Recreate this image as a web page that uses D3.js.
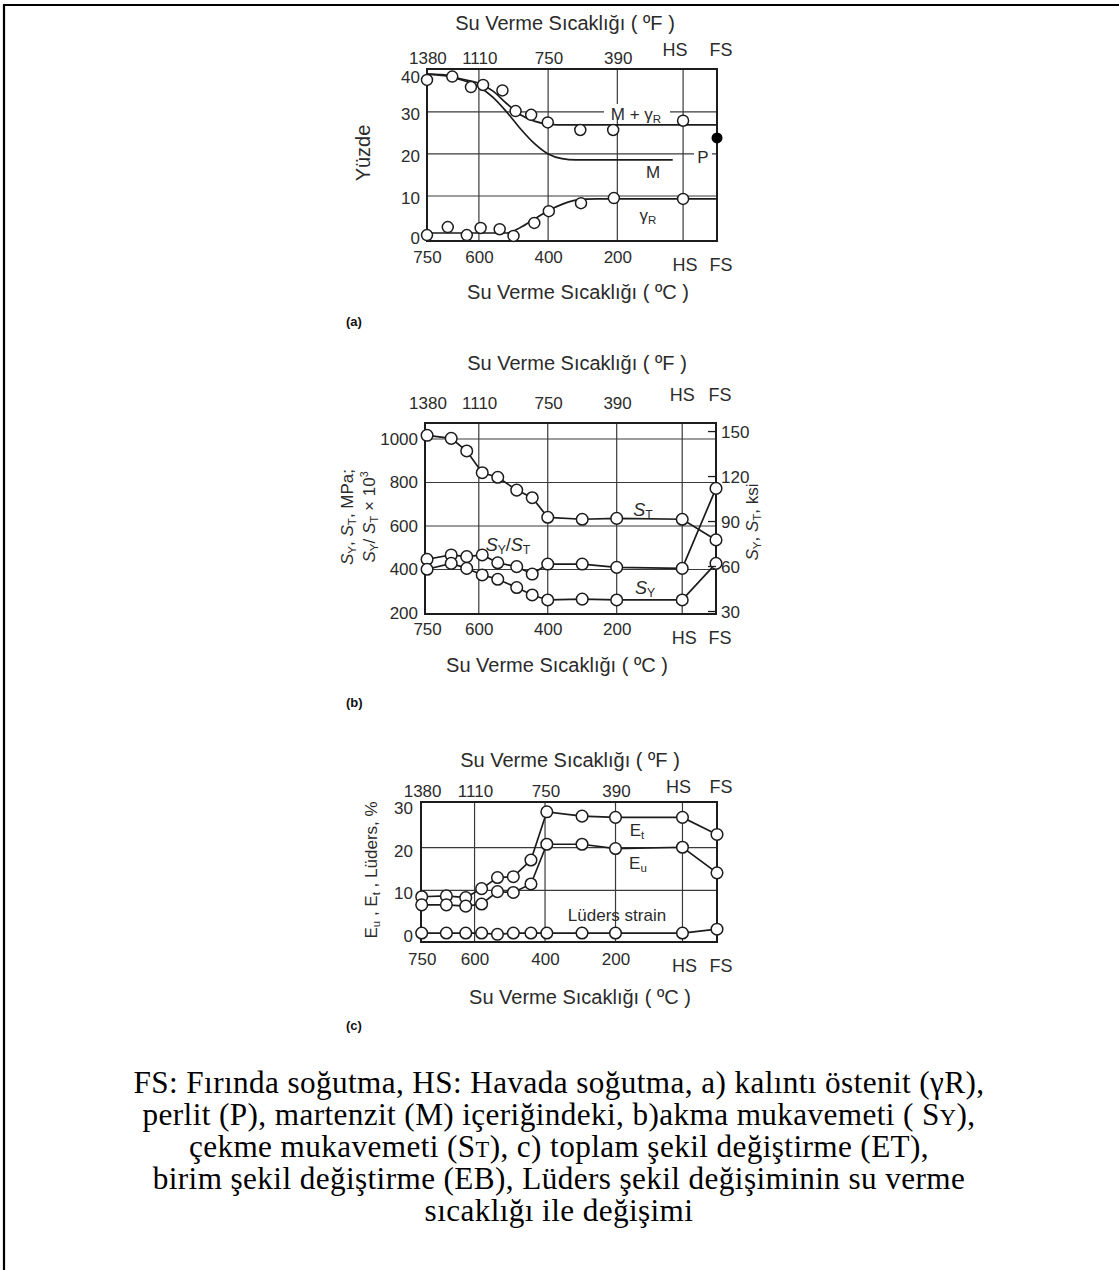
<!DOCTYPE html>
<html><head><meta charset="utf-8">
<script src="https://cdn.jsdelivr.net/npm/d3@7"></script>
<style>
html,body{margin:0;padding:0;background:#fff;}
svg{display:block;}
</style></head><body>
<svg id="fig" width="1119" height="1270"></svg>
<script>
// ---------- shared axis labels ----------
const fahrenheitTicks = [1380, 1110, 750, 390];
const celsiusTicks = [750, 600, 400, 200];
const coolingLabels = ["HS", "FS"];
const coolingPos = { HS: 10, FS: -88 };   // where air / furnace cooling sit on the temperature axis

// ---------- (a) phase contents, % ----------
const aMgTemps = [750, 677, 623, 588, 532, 494, 449, 401, 307, 212, "HS"];
const aMgValues = [37.6, 38.4, 35.9, 36.4, 35.1, 30.2, 29.3, 27.5, 25.7, 25.7, 27.9];
const aGammaTemps = [750, 690, 635, 595, 540, 500, 440, 398, 305, 210, "HS"];
const aGammaValues = [0.7, 2.6, 0.7, 2.4, 2.1, 0.5, 3.6, 6.4, 8.3, 9.5, 9.3];
const aPearliteTemps = ["FS"];
const aPearliteValues = [23.8];
// fitted trend curves
const aMgCurveTemps = [750, 700, 650, 600, 560, 520, 480, 440, 400, 350, "FS"];
const aMgCurveValues = [39, 38.8, 37.8, 36.8, 35, 32, 29.3, 27.8, 27.1, 26.9, 26.9];
const aMCurveTemps = [750, 700, 650, 600, 560, 520, 480, 440, 400, 360, 320, 40];
const aMCurveValues = [39, 38.6, 37.6, 36, 33.5, 30, 26, 22.5, 20, 18.9, 18.6, 18.6];
const aGammaCurveTemps = [750, 520, 480, 440, 400, 360, 320, 260, "FS"];
const aGammaCurveValues = [1.2, 1.2, 2.5, 4.5, 6.5, 8, 9, 9.3, 9.3];

// ---------- (b) strength, MPa ----------
const bTemps = [750, 680, 635, 590, 545, 490, 445, 400, 300, 200, "HS", "FS"];
const bTensile = [1017, 1003, 945, 845, 824, 765, 730, 640, 631, 635, 631, 536];
const bRatio = [447, 467, 459, 467, 431, 413, 379, 425, 425, 410, 405, 773];
const bYield = [401, 428, 405, 375, 355, 317, 283, 260, 264, 260, 260, 428];
const bMpaTicks = [200, 400, 600, 800, 1000];
const bKsiTicks = [30, 60, 90, 120, 150];

// ---------- (c) strains, % ----------
const cTemps = [750, 680, 625, 580, 535, 490, 440, 395, 295, 200, "HS", "FS"];
const cTotal = [8.5, 8.7, 8.3, 10.4, 13, 13.2, 17.1, 28.4, 27.4, 27.1, 27.1, 23.1];
const cUniform = [6.6, 6.6, 6.3, 6.8, 9.7, 9.5, 11.5, 20.8, 20.8, 19.8, 20.1, 14.1];
const cLuders = [0, 0, 0, 0, -0.3, 0, 0, 0, 0, 0, 0, 0.9];

const SANS = "'Liberation Sans', Arial, Helvetica, sans-serif";
const SERIF = "'Liberation Serif', 'Times New Roman', serif";
const INK = "#1c1c1c";
const TXT = "#2b2b2b";
const TICK_FONT = 17;

const svg = d3.select("#fig");
const W = 1119, H = 1270;
svg.append("rect").attr("width", W).attr("height", H).attr("fill", "#fff");
// page border (left and top edges)
svg.append("path").attr("d", `M4,${H} V5 H${W}`).attr("fill", "none")
  .attr("stroke", "#000").attr("stroke-width", 2.2);

const pos = t => (typeof t === "string" ? coolingPos[t] : t);
const fToC = f => (f - 32) * 5 / 9;

// text with italic / subscript / superscript pieces
function rich(parent, parts, attrs) {
  const t = parent.append("text").attr("font-family", SANS).attr("fill", TXT);
  Object.entries(attrs).forEach(([k, v]) => t.attr(k, v));
  let shift = 0;
  parts.forEach(p => {
    const s = t.append("tspan").text(p.t);
    const target = p.sub ? (p.shift ?? 3) : p.sup ? -7 : 0;
    if (p.sub) s.attr("font-size", p.size || "68%");
    if (p.sup) s.attr("font-size", "62%");
    if (p.it) s.attr("font-style", "italic");
    if (target !== shift) { s.attr("dy", target - shift); shift = target; }
  });
  return t;
}

function panel(cfg) {
  const g = svg.append("g");
  const x = d3.scaleLinear().domain(cfg.xDomain).range([cfg.left, cfg.right]);
  const y = d3.scaleLinear().domain(cfg.yDomain).range([cfg.bottom, cfg.top]);
  const X = t => x(pos(t));

  // grid
  g.append("g").selectAll("line").data([600, 400, 200, "HS"]).join("line")
    .attr("x1", d => X(d)).attr("x2", d => X(d))
    .attr("y1", cfg.top).attr("y2", cfg.bottom)
    .attr("stroke", "#3a3a3a").attr("stroke-width", 1.2);
  g.append("g").selectAll("line").data(cfg.hGrid).join("line")
    .attr("x1", cfg.left).attr("x2", cfg.right)
    .attr("y1", d => y(d)).attr("y2", d => y(d))
    .attr("stroke", "#3a3a3a").attr("stroke-width", 1.2);
  // frame
  g.append("rect").attr("x", cfg.left).attr("y", cfg.top)
    .attr("width", cfg.right - cfg.left).attr("height", cfg.bottom - cfg.top)
    .attr("fill", "none").attr("stroke", INK).attr("stroke-width", 2);

  const styleAxis = sel => {
    sel.attr("font-family", SANS).attr("font-size", TICK_FONT);
    sel.select(".domain").remove();
    sel.selectAll("text").attr("fill", TXT);
  };
  // left value axis
  g.append("g").attr("transform", `translate(${cfg.left},0)`)
    .call(d3.axisLeft(y).tickValues(cfg.yTicks).tickFormat(d3.format("d"))
      .tickSize(0).tickPadding(cfg.lPad))
    .call(styleAxis)
    .selectAll("text").attr("dy", cfg.lDy);
  // bottom celsius axis
  g.append("g").attr("transform", `translate(0,${cfg.bottom})`)
    .call(d3.axisBottom(x).tickValues(celsiusTicks).tickSize(0).tickPadding(cfg.bPad))
    .call(styleAxis);
  // top fahrenheit axis
  g.append("g").attr("transform", `translate(0,${cfg.top})`)
    .call(d3.axisTop(x).tickValues(fahrenheitTicks.map(fToC))
      .tickFormat((d, i) => fahrenheitTicks[i]).tickSize(0).tickPadding(cfg.tPad))
    .call(styleAxis);

  // cooling mode labels
  const coolX = { HS: X("HS"), FS: cfg.right + 4 };
  g.append("g").selectAll("text").data(coolingLabels).join("text")
    .attr("x", d => coolX[d] + (d === "HS" ? cfg.hsTopDx : 0)).attr("y", cfg.top - cfg.coolTop)
    .attr("text-anchor", "middle").attr("font-family", SANS).attr("font-size", 18)
    .attr("fill", TXT).text(d => d);
  g.append("g").selectAll("text").data(coolingLabels).join("text")
    .attr("x", d => coolX[d] + (d === "HS" ? 2 : 0)).attr("y", cfg.bottom + cfg.coolBottom)
    .attr("text-anchor", "middle").attr("font-family", SANS).attr("font-size", 18)
    .attr("fill", TXT).text(d => d);

  // axis titles
  g.append("text").attr("x", cfg.topTitleX).attr("y", cfg.top - cfg.topTitleDy)
    .attr("text-anchor", "middle").attr("font-family", SANS).attr("font-size", 20)
    .attr("fill", TXT).text("Su Verme Sıcaklığı ( ºF )");
  g.append("text").attr("x", cfg.botTitleX).attr("y", cfg.bottom + cfg.botTitleDy)
    .attr("text-anchor", "middle").attr("font-family", SANS).attr("font-size", 20)
    .attr("fill", TXT).text("Su Verme Sıcaklığı ( ºC )");
  g.append("text").attr("x", 346).attr("y", cfg.bottom + cfg.letterDy)
    .attr("font-family", SANS).attr("font-size", 13).attr("font-weight", "bold")
    .attr("fill", "#111").text(cfg.letter);

  return { g, x, y, X };
}

function series(p, temps, values, opts = {}) {
  const pts = temps.map((t, i) => [p.X(t), p.y(values[i])]);
  if (opts.line !== false) {
    p.g.append("path").attr("d", d3.line()(pts)).attr("fill", "none")
      .attr("stroke", INK).attr("stroke-width", 1.7);
  }
  p.g.append("g").selectAll("circle").data(pts).join("circle")
    .attr("cx", d => d[0]).attr("cy", d => d[1]).attr("r", opts.r || 5.8)
    .attr("fill", "#fff").attr("stroke", INK).attr("stroke-width", 1.5);
}

function curve(p, temps, values) {
  const pts = temps.map((t, i) => [p.X(t), p.y(values[i])]);
  p.g.append("path").attr("d", d3.line().curve(d3.curveMonotoneX)(pts))
    .attr("fill", "none").attr("stroke", INK).attr("stroke-width", 1.7);
}

function label(p, parts, x, y, size, bg) {
  if (bg) {
    p.g.append("rect").attr("x", bg[0]).attr("y", bg[1]).attr("width", bg[2]).attr("height", bg[3])
      .attr("fill", "#fff");
  }
  return rich(p.g, parts, { x, y, "font-size": size, "text-anchor": "middle" });
}

// ================= (a) =================
const pa = panel({
  left: 427, right: 717, top: 69, bottom: 241,
  xDomain: [750, -88], yDomain: [-0.7, 40.2],
  hGrid: [10, 20, 30], yTicks: [0, 10, 20, 30, 40],
  // the 40 label sits just under the frame edge, the 0 label on its line
  lPad: 7, lDy: d => (d === 0 ? "0.3em" : d === 40 ? "0.75em" : "0.45em"),
  bPad: 10, tPad: 5, coolTop: 13, coolBottom: 30, hsTopDx: -8,
  topTitleX: 565, topTitleDy: 39, botTitleX: 578, botTitleDy: 58,
  letter: "(a)", letterDy: 85
});
curve(pa, aMgCurveTemps, aMgCurveValues);
curve(pa, aMCurveTemps, aMCurveValues);
curve(pa, aGammaCurveTemps, aGammaCurveValues);
series(pa, aMgTemps, aMgValues, { line: false, r: 5.5 });
series(pa, aGammaTemps, aGammaValues, { line: false, r: 5.5 });
pa.g.selectAll(".pearlite").data(aPearliteTemps).join("circle")
  .attr("cx", d => pa.X(d)).attr("cy", (d, i) => pa.y(aPearliteValues[i]))
  .attr("r", 5.5).attr("fill", "#000");
label(pa, [{ t: "M + γ" }, { t: "R", sub: true }], 636, 120, 17, [604, 104, 66, 14]);
label(pa, [{ t: "P" }], 703, 163, 17, [694, 150, 18, 14]);
label(pa, [{ t: "M" }], 653, 178, 17);
label(pa, [{ t: "γ" }, { t: "R", sub: true }], 648, 221, 17);
rich(pa.g, [{ t: "Yüzde" }], {
  transform: "translate(370,153) rotate(-90)", "text-anchor": "middle", "font-size": 20
});

// ================= (b) =================
const pb = panel({
  left: 425, right: 716, top: 423, bottom: 614,
  xDomain: [756, -88], yDomain: [195.4, 1073.6],
  hGrid: [400, 600, 800, 1000], yTicks: bMpaTicks,
  lPad: 7, lDy: "0.32em", bPad: 9, tPad: 14, coolTop: 22, coolBottom: 30, hsTopDx: 0,
  topTitleX: 577, topTitleDy: 53, botTitleX: 557, botTitleDy: 58,
  letter: "(b)", letterDy: 93
});
series(pb, bTemps, bTensile);
series(pb, bTemps, bRatio);
series(pb, bTemps, bYield);
// ksi scale on the right edge
const ksiG = pb.g.append("g");
ksiG.selectAll("line").data(bKsiTicks).join("line")
  .attr("x1", 708).attr("x2", 716)
  .attr("y1", d => pb.y(d * 6.895)).attr("y2", d => pb.y(d * 6.895))
  .attr("stroke", INK).attr("stroke-width", 1.3);
ksiG.selectAll("text").data(bKsiTicks).join("text")
  .attr("x", 721).attr("y", d => pb.y(d * 6.895)).attr("dy", "0.36em")
  .attr("font-family", SANS).attr("font-size", TICK_FONT).attr("fill", TXT).text(d => d);
label(pb, [{ t: "S", it: true }, { t: "T", sub: true }], 643, 516, 18);
label(pb, [{ t: "S", it: true }, { t: "Y", sub: true }, { t: "/" }, { t: "S", it: true }, { t: "T", sub: true }], 508, 551, 18);
label(pb, [{ t: "S", it: true }, { t: "Y", sub: true }], 645, 594, 18);
rich(pb.g, [{ t: "S", it: true }, { t: "Y", sub: true }, { t: ", " }, { t: "S", it: true }, { t: "T", sub: true }, { t: ", MPa;" }], {
  transform: "translate(353,517) rotate(-90)", "text-anchor": "middle", "font-size": 17
});
rich(pb.g, [{ t: "S", it: true }, { t: "Y", sub: true }, { t: "/ " }, { t: "S", it: true }, { t: "T", sub: true }, { t: " × 10" }, { t: "3", sup: true }], {
  transform: "translate(375,517) rotate(-90)", "text-anchor": "middle", "font-size": 17
});
rich(pb.g, [{ t: "S", it: true }, { t: "Y", sub: true }, { t: ", " }, { t: "S", it: true }, { t: "T", sub: true }, { t: ", ksi" }], {
  transform: "translate(758,522) rotate(-90)", "text-anchor": "middle", "font-size": 17
});

// ================= (c) =================
const pc = panel({
  left: 421, right: 717, top: 802, bottom: 942,
  xDomain: [752, -88], yDomain: [-2.1, 30.7],
  hGrid: [10, 20], yTicks: [0, 10, 20, 30],
  lPad: 8, lDy: "0.5em", bPad: 11, tPad: 5, coolTop: 9, coolBottom: 30, hsTopDx: -4,
  topTitleX: 570, topTitleDy: 35, botTitleX: 580, botTitleDy: 62,
  letter: "(c)", letterDy: 88
});
series(pc, cTemps, cTotal);
series(pc, cTemps, cUniform);
series(pc, cTemps, cLuders);
label(pc, [{ t: "E" }, { t: "t", sub: true }], 637, 836, 17);
label(pc, [{ t: "E" }, { t: "u", sub: true }], 638, 869, 17);
label(pc, [{ t: "Lüders strain" }], 617, 921, 17);
rich(pc.g, [{ t: "E" }, { t: "u", sub: true }, { t: " , E" }, { t: "t", sub: true }, { t: " , Lüders, %" }], {
  transform: "translate(377,870) rotate(-90)", "text-anchor": "middle", "font-size": 17
});

// ================= caption =================
const captionLines = [
  [{ t: "FS: Fırında soğutma, HS: Havada soğutma, a) kalıntı östenit (γR)," }],
  [{ t: "perlit (P), martenzit (M) içeriğindeki, b)akma mukavemeti ( S" }, { t: "Y", small: true }, { t: ")," }],
  [{ t: "çekme mukavemeti (S" }, { t: "T", small: true }, { t: "), c) toplam şekil değiştirme (ET)," }],
  [{ t: "birim şekil değiştirme (EB), Lüders şekil değişiminin su verme" }],
  [{ t: "sıcaklığı ile değişimi" }]
];
// size the caption so its first line spans 851px, using a touch of letter spacing
const firstLine = captionLines[0][0].t;
const probe = svg.append("text").attr("font-family", SERIF).attr("font-size", 100).text(firstLine);
const probeLen = probe.node().getComputedTextLength();
probe.remove();
const capSize = 0.97 * 100 * 851 / probeLen;
const capSpacing = (851 - 0.97 * 851) / firstLine.length;
const capG = svg.append("g");
captionLines.forEach((parts, i) => {
  const t = capG.append("text").attr("x", 559).attr("y", 1093 + i * 32)
    .attr("text-anchor", "middle").attr("font-family", SERIF)
    .attr("font-size", capSize).attr("letter-spacing", capSpacing).attr("fill", "#000");
  parts.forEach(p => {
    const s = t.append("tspan").text(p.t);
    if (p.small) s.attr("font-size", capSize * 0.72);
  });
});
</script>
</body></html>
